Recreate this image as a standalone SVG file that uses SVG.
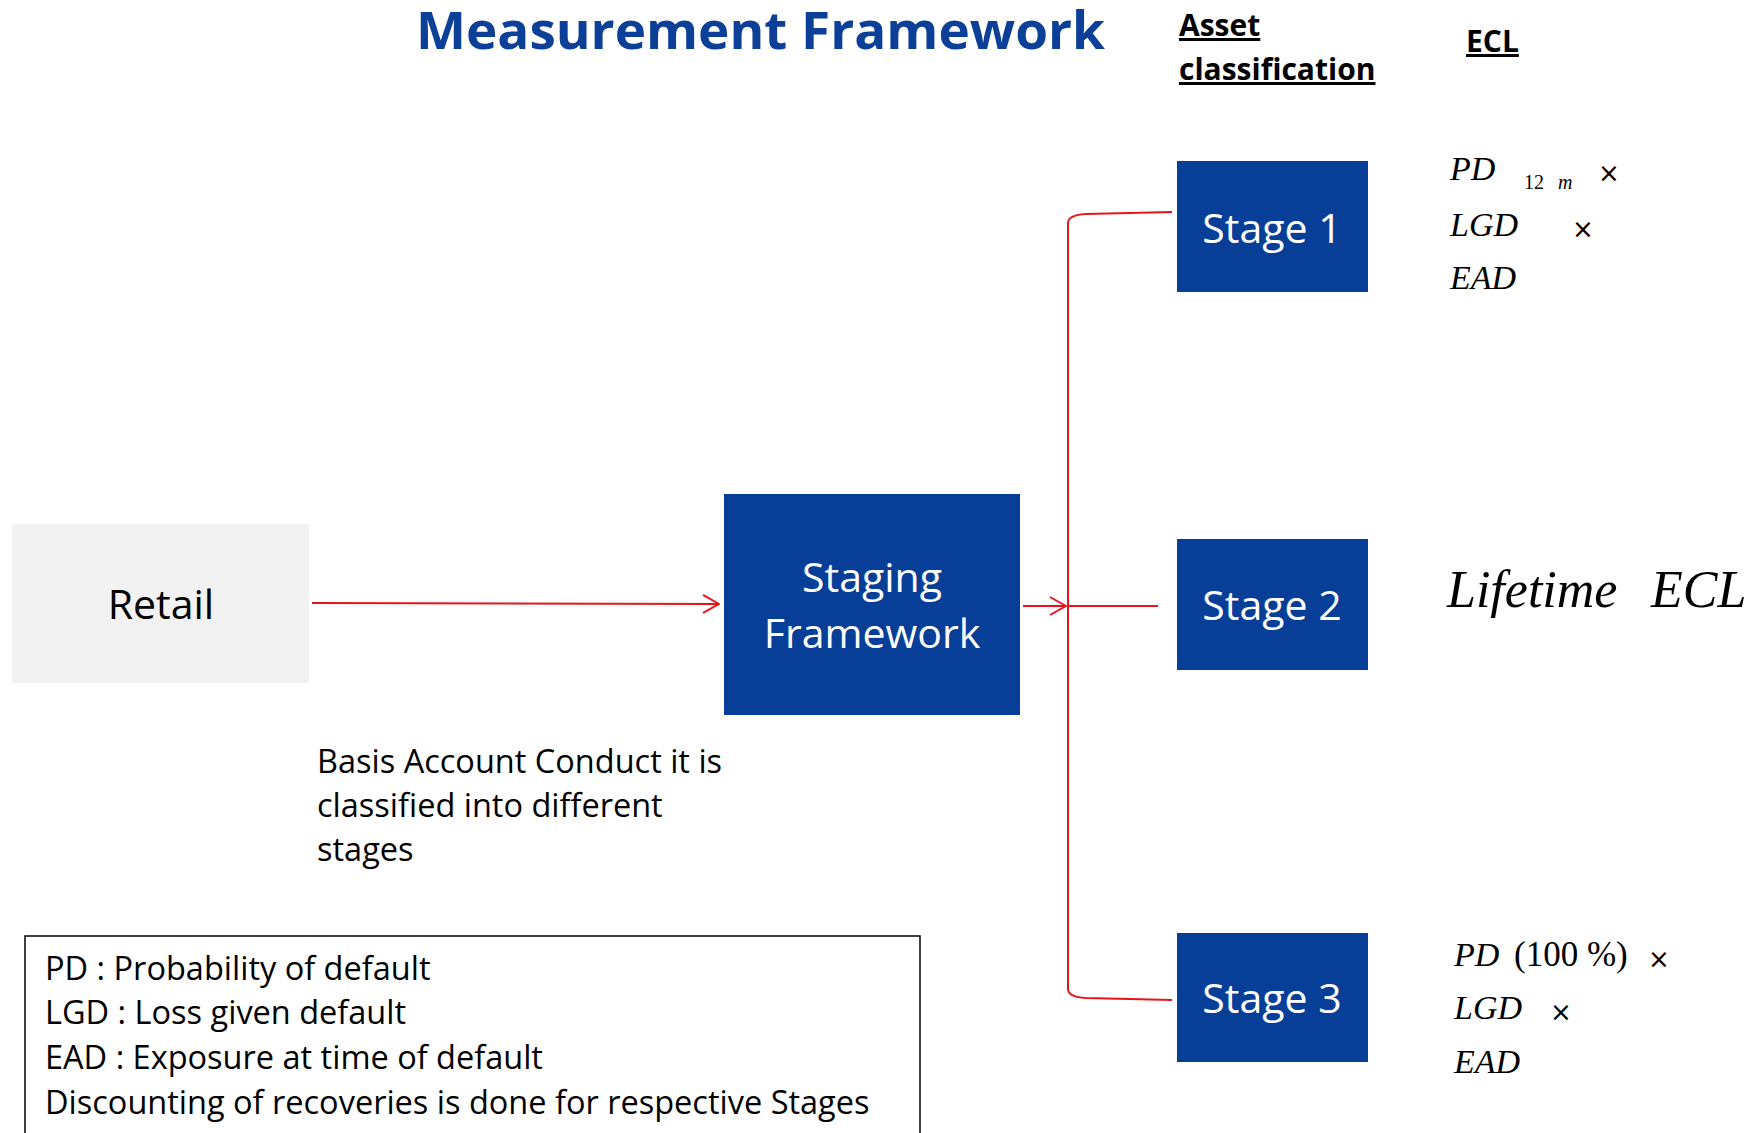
<svg xmlns="http://www.w3.org/2000/svg" width="1762" height="1133" viewBox="0 0 1762 1133">
<defs>
<style>
.title{font-family:"Open Sans",sans-serif;font-weight:bold;fill:#0B3F98}
.hdr{font-family:"Open Sans",sans-serif;font-weight:bold;font-size:30px;fill:#000;text-decoration:underline}
.box{fill:#073F98}
.wt{font-family:"Open Sans",sans-serif;font-size:41px;fill:#fff;text-anchor:middle}
.bt{font-family:"Open Sans",sans-serif;font-size:32.5px;fill:#000}
.m{font-family:"Liberation Serif",serif;font-style:italic;fill:#000}
.u{font-family:"Liberation Serif",serif;fill:#000}
.x{font-family:"DejaVu Sans",sans-serif;font-size:26px;fill:#000}
.con{fill:none;stroke:#E8131D;stroke-width:2}
</style>
<marker id="arr" markerWidth="18" markerHeight="20" refX="17" refY="10" orient="auto" markerUnits="userSpaceOnUse">
<path d="M1,1 L17,10 L1,19" fill="none" stroke="#E8131D" stroke-width="2"/>
</marker>
</defs>
<rect width="1762" height="1133" fill="#fff"/>
<text class="title" x="416" y="49" font-size="52" textLength="689" lengthAdjust="spacingAndGlyphs">Measurement Framework</text>
<g id="header-asset">
<text class="hdr" x="1179" y="36">Asset</text>
<text class="hdr" x="1179" y="80">classification</text>
</g>
<g id="header-ecl">
<text class="hdr" x="1466" y="52">ECL</text>
</g>
<g id="connectors">
<path class="con" d="M312,603 L719,604" marker-end="url(#arr)"/>
<path class="con" d="M1023,606 L1066,606" marker-end="url(#arr)"/>
<path class="con" d="M1068,606 L1158,606"/>
<path class="con" d="M1172,212 L1086,214 Q1068,215 1068,223 L1068,989 Q1068,997 1086,998 L1172,1000"/>
</g>
<g id="retail">
<rect x="12" y="524" width="297" height="159" fill="#F2F2F2"/>
<text x="161" y="619" font-family="Open Sans, sans-serif" font-size="41" text-anchor="middle" fill="#000">Retail</text>
</g>
<g id="staging">
<rect class="box" x="724" y="494" width="296" height="221"/>
<text class="wt" x="872" y="592">Staging</text>
<text class="wt" x="872" y="648">Framework</text>
</g>
<g id="stage1">
<rect class="box" x="1177" y="161" width="191" height="131"/>
<text class="wt" x="1272" y="243">Stage 1</text>
</g>
<g id="stage2">
<rect class="box" x="1177" y="539" width="191" height="131"/>
<text class="wt" x="1272" y="620">Stage 2</text>
</g>
<g id="stage3">
<rect class="box" x="1177" y="933" width="191" height="129"/>
<text class="wt" x="1272" y="1013">Stage 3</text>
</g>
<g id="ecl1">
<text class="m" x="1450" y="180" font-size="34">PD</text>
<text class="u" x="1524" y="189" font-size="20">12</text>
<text class="m" x="1558" y="189" font-size="20">m</text>
<text class="x" x="1598" y="182">×</text>
<text class="m" x="1450" y="236" font-size="34">LGD</text>
<text class="x" x="1572" y="238">×</text>
<text class="m" x="1450" y="289" font-size="34">EAD</text>
</g>
<g id="ecl2">
<text class="m" x="1447" y="607" font-size="52">Lifetime</text>
<text class="m" x="1651" y="607" font-size="52">ECL</text>
</g>
<g id="ecl3">
<text class="m" x="1454" y="966" font-size="34">PD</text>
<text class="u" x="1514" y="966" font-size="35">(100 %)</text>
<text class="x" x="1648" y="968">×</text>
<text class="m" x="1454" y="1019" font-size="34">LGD</text>
<text class="x" x="1550" y="1021">×</text>
<text class="m" x="1454" y="1073" font-size="34">EAD</text>
</g>
<g id="note">
<text class="bt" x="317" y="773">Basis Account Conduct it is</text>
<text class="bt" x="317" y="817">classified into different</text>
<text class="bt" x="317" y="861">stages</text>
</g>
<g id="legend">
<rect x="25" y="936" width="895" height="220" fill="none" stroke="#000" stroke-width="1.5"/>
<text class="bt" x="45" y="980">PD : Probability of default</text>
<text class="bt" x="45" y="1024">LGD : Loss given default</text>
<text class="bt" x="45" y="1069">EAD : Exposure at time of default</text>
<text class="bt" x="45" y="1114">Discounting of recoveries is done for respective Stages</text>
</g>
</svg>
